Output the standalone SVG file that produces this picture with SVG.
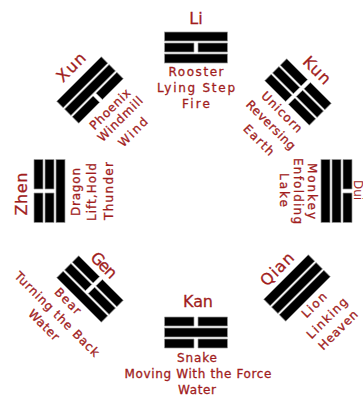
<svg xmlns="http://www.w3.org/2000/svg" xmlns:xlink="http://www.w3.org/1999/xlink" width="363" height="399" viewBox="0 0 363 399">
<style>
.bar{fill:#000;stroke:#9a9a9a;stroke-width:0.7}
text{font-family:"DejaVu Sans","Liberation Sans",sans-serif;fill:#a11d1d;stroke:#a11d1d;stroke-width:0.3;text-anchor:middle}
.lbl{font-size:16px}
.txt{font-size:12px}
</style>
<defs>
<rect id="s" class="bar" x="-31.5" y="-4.5" width="63" height="9"/>
<path id="b" class="bar" d="M-31.5,-4.5h29.5v9h-29.5z M2,-4.5h29.5v9h-29.5z"/>
</defs>
<rect width="363" height="399" fill="#fff"/>
<g id="li">
<g transform="translate(196,47.5)"><use href="#s" y="-11"/><use href="#b"/><use href="#s" y="11"/></g>
<text class="lbl" x="196" y="24">Li</text>
<text class="txt" x="196" y="76" textLength="55">Rooster</text>
<text class="txt" x="196" y="92" textLength="78">Lying Step</text>
<text class="txt" x="196" y="108" textLength="28">Fire</text>
</g>
<g id="kan">
<g transform="translate(196,332.5) rotate(180)"><use href="#b" y="-11"/><use href="#s"/><use href="#b" y="11"/></g>
<text class="lbl" x="198" y="307" textLength="30">Kan</text>
<text class="txt" x="197" y="362" textLength="40">Snake</text>
<text class="txt" x="198" y="378" textLength="147">Moving With the Force</text>
<text class="txt" x="197" y="394" textLength="38">Water</text>
</g>
<g id="zhen">
<g transform="translate(49.5,191) rotate(-90)"><use href="#b" y="-11"/><use href="#b"/><use href="#s" y="11"/></g>
<text class="lbl" transform="translate(27,194) rotate(-90)" textLength="43">Zhen</text>
<text class="txt" transform="translate(80,192) rotate(-90)" textLength="48">Dragon</text>
<text class="txt" transform="translate(96,192) rotate(-90)" textLength="58">Lift,Hold</text>
<text class="txt" transform="translate(113,191) rotate(-90)" textLength="58">Thunder</text>
</g>
<g id="dui">
<g transform="translate(336.5,191) rotate(90)"><use href="#b" y="-11"/><use href="#s"/><use href="#s" y="11"/></g>
<text class="lbl" transform="translate(353.5,190) rotate(90)" style="font-size:12px;stroke-width:0">Dui</text>
<text class="txt" transform="translate(308,191) rotate(90)" textLength="56">Monkey</text>
<text class="txt" transform="translate(294,191) rotate(90)" textLength="66">Enfolding</text>
<text class="txt" transform="translate(280,190) rotate(90)" textLength="34">Lake</text>
</g>
<g id="xun">
<g transform="translate(90,90) rotate(-45)"><use href="#s" y="-11"/><use href="#s"/><use href="#b" y="11"/></g>
<text class="lbl" transform="translate(75,71) rotate(-45)" textLength="34">Xun</text>
<text class="txt" transform="translate(113,112) rotate(-45)" textLength="52">Phoenix</text>
<text class="txt" transform="translate(123,122) rotate(-45)" textLength="58">Windmill</text>
<text class="txt" transform="translate(136,135) rotate(-45)" textLength="36">Wind</text>
</g>
<g id="kun">
<g transform="translate(298,92) rotate(45)"><use href="#b" y="-11"/><use href="#b"/><use href="#b" y="11"/></g>
<text class="lbl" transform="translate(313,74) rotate(45)" textLength="32">Kun</text>
<text class="txt" transform="translate(279,115) rotate(45)" textLength="52">Unicorn</text>
<text class="txt" transform="translate(268,128) rotate(45)" textLength="64">Reversing</text>
<text class="txt" transform="translate(256,143) rotate(45)" textLength="38">Earth</text>
</g>
<g id="gen">
<g transform="translate(90,289) rotate(-135)"><use href="#s" y="-11"/><use href="#b"/><use href="#b" y="11"/></g>
<text class="lbl" transform="translate(100,269) rotate(45)" textLength="30">Gen</text>
<text class="txt" transform="translate(65,304) rotate(45)" textLength="32">Bear</text>
<text class="txt" transform="translate(54,317) rotate(45)" textLength="114">Turning the Back</text>
<text class="txt" transform="translate(41,328) rotate(45)" textLength="38">Water</text>
</g>
<g id="qian">
<g transform="translate(297,288) rotate(135)"><use href="#s" y="-11"/><use href="#s"/><use href="#s" y="11"/></g>
<text class="lbl" transform="translate(281,273) rotate(-45)" textLength="40">Qian</text>
<text class="txt" transform="translate(317,308) rotate(-45)" textLength="30">Lion</text>
<text class="txt" transform="translate(330,321) rotate(-45)" textLength="52">Linking</text>
<text class="txt" transform="translate(341,333) rotate(-45)" textLength="50">Heaven</text>
</g>
</svg>
